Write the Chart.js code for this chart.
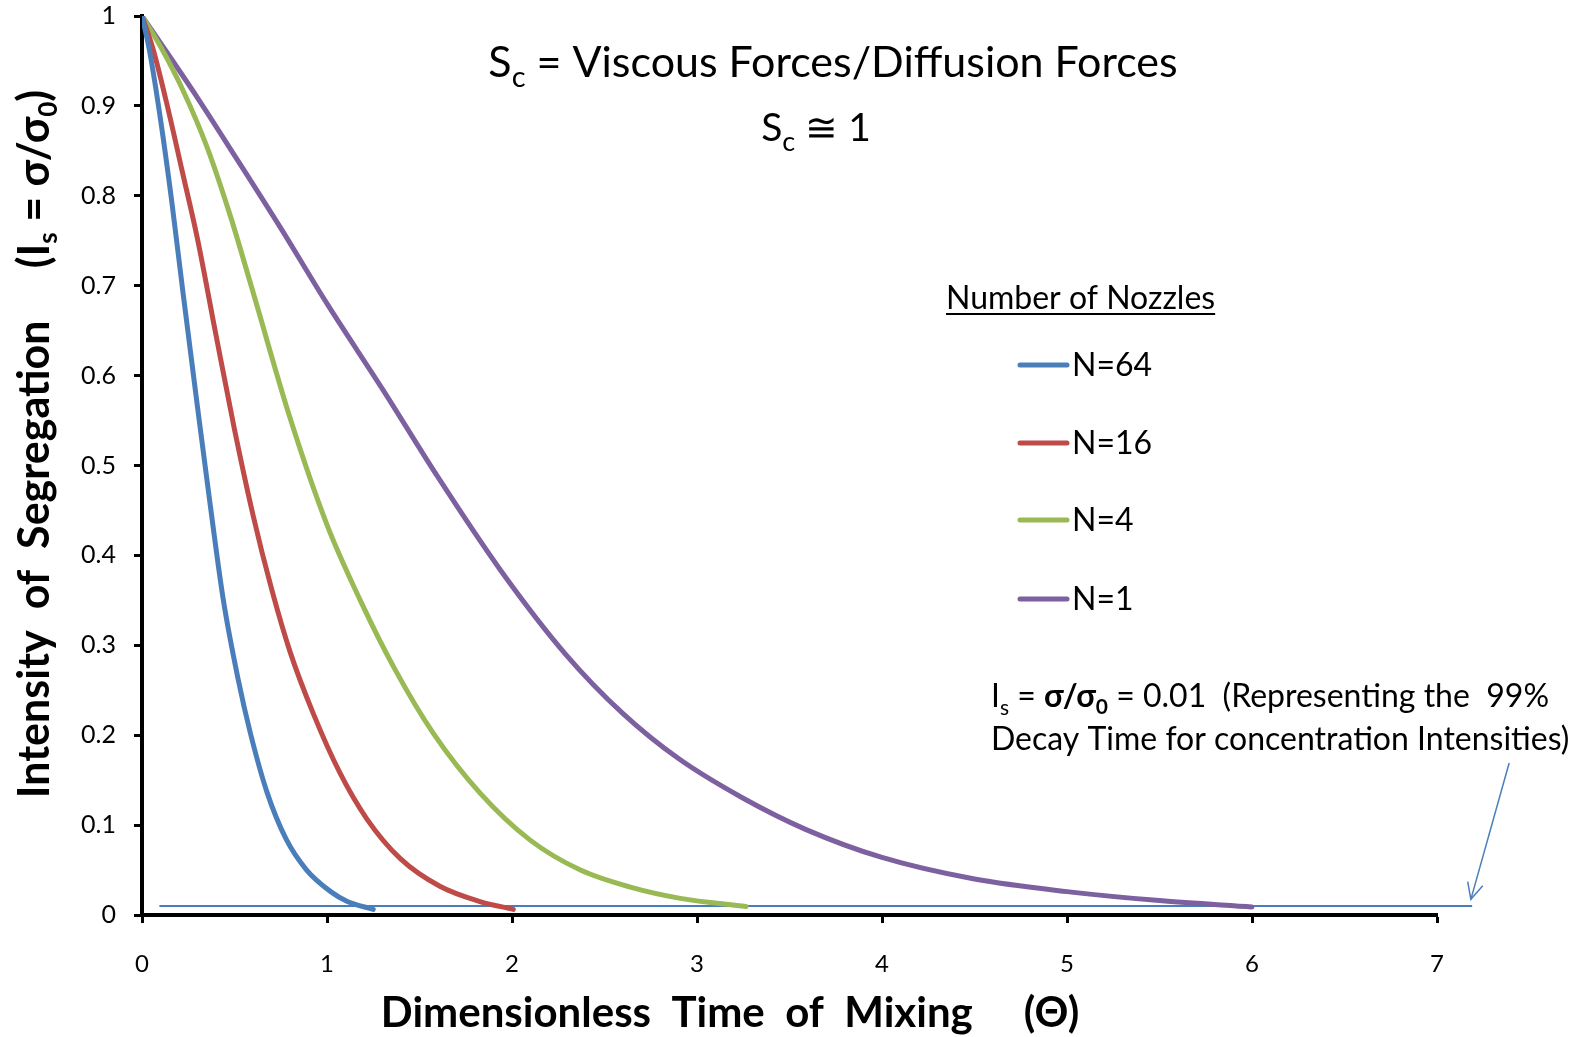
<!DOCTYPE html>
<html>
<head>
<meta charset="utf-8">
<title>Intensity of Segregation</title>
<script src="https://cdn.jsdelivr.net/npm/chart.js@4/dist/chart.umd.min.js"></script>
<style>
  html, body { margin: 0; padding: 0; background: #fff; }
  canvas { display: block; }
</style>
</head>
<body>
<canvas id="chart" width="1581" height="1037"></canvas>
<script>
// decay curves, theta vs Is, one pair of arrays per nozzle count
const THETA_N64 = [0, 0.04, 0.1, 0.16, 0.22, 0.3, 0.365, 0.44, 0.52, 0.585, 0.675, 0.78, 0.89, 1.02, 1.11, 1.25];
const IS_N64 = [1, 0.962, 0.885, 0.795, 0.695, 0.565, 0.462, 0.35, 0.262, 0.203, 0.137, 0.084, 0.05, 0.026, 0.015, 0.0063];

const THETA_N16 = [0, 0.06, 0.13, 0.22, 0.3, 0.4, 0.5, 0.6, 0.7, 0.8, 0.926, 1.07, 1.215, 1.395, 1.61, 1.827, 2.007];
const IS_N16 = [1, 0.963, 0.906, 0.825, 0.752, 0.645, 0.54, 0.445, 0.363, 0.293, 0.224, 0.158, 0.107, 0.063, 0.032, 0.015, 0.0063];

const THETA_N4 = [0, 0.1, 0.22, 0.35, 0.48, 0.6, 0.8, 1.0, 1.18, 1.36, 1.575, 1.83, 2.1, 2.37, 2.64, 2.91, 3.265];
const IS_N4 = [1, 0.966, 0.918, 0.855, 0.776, 0.693, 0.553, 0.434, 0.35, 0.276, 0.202, 0.135, 0.083, 0.05, 0.031, 0.0185, 0.0095];

const THETA_N1 = [0, 0.1, 0.3, 0.5, 0.75, 1.0, 1.3, 1.6, 1.94, 2.29, 2.6, 2.9, 3.24, 3.59, 4.0, 4.5, 5.0, 5.5, 6.0];
const IS_N1 = [1, 0.97, 0.909, 0.845, 0.764, 0.68, 0.585, 0.487, 0.383, 0.29, 0.224, 0.174, 0.131, 0.095, 0.064, 0.04, 0.026, 0.016, 0.009];

// 99% decay level and the pointer to it
const LIMIT_THETA = [0.094, 7.19];
const LIMIT_IS = [0.01, 0.01];
const ARROW_THETA = [7.39, 7.183];
const ARROW_IS = [0.169, 0.0174];

const SERIES_LABELS = ["N=64", "N=16", "N=4", "N=1"];
const COLORS = ["#4a7ebb", "#be4b48", "#98b954", "#7d60a0"];

const X_MAX = 7;
const Y_MAX = 1;

function pts(xs, ys) { return xs.map((x, i) => ({ x, y: ys[i] })); }

const FONT = "Lato, 'Open Sans', sans-serif";
const f = (weight, size) => `${weight} ${size}px ${FONT}`;

// draws a row of text pieces (for subscripts / mixed weights)
function drawRuns(ctx, runs, x, y, align) {
  let w = 0;
  runs.forEach(r => { ctx.font = r.font; w += ctx.measureText(r.text).width; });
  let cx = align === "center" ? x - w / 2 : x;
  runs.forEach(r => {
    ctx.font = r.font;
    ctx.fillText(r.text, cx, y + (r.dy || 0));
    cx += ctx.measureText(r.text).width;
  });
  return w;
}

const textLayer = {
  id: "textLayer",
  afterDraw(chart) {
    const ctx = chart.ctx;
    const xs = chart.scales.x, ys = chart.scales.y;
    ctx.save();
    ctx.fillStyle = "#000";
    ctx.textAlign = "left";
    ctx.textBaseline = "alphabetic";

    // headings
    drawRuns(ctx, [
      { text: "S", font: f("normal", 43) },
      { text: "c", font: f("normal", 29), dy: 10 },
      { text: " = Viscous Forces/Diffusion Forces", font: f("normal", 43) }
    ], 833, 77, "center");
    drawRuns(ctx, [
      { text: "S", font: f("normal", 39) },
      { text: "c", font: f("normal", 27), dy: 10 },
      { text: " \u2245 1", font: f("normal", 39) }
    ], 816, 141, "center");

    // legend
    ctx.font = f("normal", 32);
    const lt = "Number of Nozzles";
    const ltw = ctx.measureText(lt).width;
    ctx.fillText(lt, 946, 309);
    ctx.fillRect(946, 313, ltw, 2);
    const rows = [365, 443, 520, 599];
    chart.data.datasets.slice(0, 4).forEach((ds, i) => {
      ctx.strokeStyle = ds.borderColor;
      ctx.lineWidth = 5;
      ctx.lineCap = "round";
      ctx.beginPath();
      ctx.moveTo(1020, rows[i]);
      ctx.lineTo(1067, rows[i]);
      ctx.stroke();
      ctx.font = f("normal", 32);
      ctx.textBaseline = "middle";
      ctx.fillText(ds.label, 1072, rows[i] + 1);
      ctx.textBaseline = "alphabetic";
    });

    // note about the limit line
    drawRuns(ctx, [
      { text: "I", font: f("normal", 32) },
      { text: "s", font: f("normal", 21), dy: 8 },
      { text: " = ", font: f("normal", 32) },
      { text: "\u03c3/\u03c3", font: f("bold", 32) },
      { text: "0", font: f("bold", 21), dy: 7 },
      { text: " = 0.01  (Representing the  99%", font: f("normal", 32) }
    ], 991, 707, "left");
    ctx.font = f("normal", 32);
    ctx.fillText("Decay Time for concentration Intensities)", 991, 750);

    // arrow head on the pointer
    const x1 = xs.getPixelForValue(ARROW_THETA[0]), y1 = ys.getPixelForValue(ARROW_IS[0]);
    const x2 = xs.getPixelForValue(ARROW_THETA[1]), y2 = ys.getPixelForValue(ARROW_IS[1]);
    const a = Math.atan2(y2 - y1, x2 - x1);
    ctx.strokeStyle = COLORS[0];
    ctx.lineWidth = 1.5;
    ctx.lineCap = "butt";
    ctx.beginPath();
    ctx.moveTo(x2 - 18 * Math.cos(a - 0.45), y2 - 18 * Math.sin(a - 0.45));
    ctx.lineTo(x2, y2);
    ctx.lineTo(x2 - 18 * Math.cos(a + 0.45), y2 - 18 * Math.sin(a + 0.45));
    ctx.stroke();

    // axis titles
    drawRuns(ctx, [
      { text: "Dimensionless  Time  of  Mixing     (\u0398)", font: f("bold", 42) }
    ], 730, 1027, "center");

    ctx.translate(49, 444);
    ctx.rotate(-Math.PI / 2);
    drawRuns(ctx, [
      { text: "Intensity  of  Segregation     (I", font: f("bold", 43) },
      { text: "s", font: f("bold", 26), dy: 8 },
      { text: " = \u03c3/\u03c3", font: f("bold", 43) },
      { text: "0", font: f("bold", 26), dy: 8 },
      { text: ")", font: f("bold", 43) }
    ], 0, 0, "center");
    ctx.restore();
  }
};

const curve = (label, xs, ys, color) => ({
  label,
  data: pts(xs, ys),
  borderColor: color,
  backgroundColor: color,
  borderWidth: 5,
  pointRadius: 0,
  showLine: true,
  cubicInterpolationMode: "monotone",
  borderCapStyle: "round"
});

new Chart(document.getElementById("chart"), {
  type: "scatter",
  data: {
    datasets: [
      curve(SERIES_LABELS[0], THETA_N64, IS_N64, COLORS[0]),
      curve(SERIES_LABELS[1], THETA_N16, IS_N16, COLORS[1]),
      curve(SERIES_LABELS[2], THETA_N4, IS_N4, COLORS[2]),
      curve(SERIES_LABELS[3], THETA_N1, IS_N1, COLORS[3]),
      {
        label: "limit",
        data: pts(LIMIT_THETA, LIMIT_IS),
        borderColor: COLORS[0],
        borderWidth: 2,
        pointRadius: 0,
        showLine: true,
        clip: false
      },
      {
        label: "pointer",
        data: pts(ARROW_THETA, ARROW_IS),
        borderColor: COLORS[0],
        borderWidth: 1.5,
        pointRadius: 0,
        showLine: true,
        clip: false
      }
    ]
  },
  options: {
    responsive: false,
    animation: false,
    devicePixelRatio: 1,
    layout: { padding: { top: 0, right: 144, left: 0, bottom: 0 } },
    plugins: { legend: { display: false }, tooltip: { enabled: false } },
    scales: {
      x: {
        type: "linear",
        min: 0,
        max: X_MAX,
        afterFit: (s) => { s.height = 122; },
        border: { display: true, color: "#000", width: 4 },
        grid: { drawOnChartArea: false, drawTicks: true, tickLength: 8, tickWidth: 3, tickColor: "#000" },
        ticks: { stepSize: 1, color: "#000", padding: 27, font: { family: FONT, size: 24 } }
      },
      y: {
        type: "linear",
        min: 0,
        max: Y_MAX,
        // fixed axis width and a 16px gap above the plot
        afterFit: (s) => { s.width = 142; s.paddingTop = 16; },
        border: { display: true, color: "#000", width: 4 },
        grid: { drawOnChartArea: false, drawTicks: true, tickLength: 8, tickWidth: 3, tickColor: "#000" },
        ticks: {
          stepSize: 0.1,
          color: "#000",
          padding: 18,
          font: { family: FONT, size: 25 },
          callback: (v) => String(Number(v.toFixed(1)))
        }
      }
    }
  },
  plugins: [textLayer]
});
</script>
</body>
</html>
